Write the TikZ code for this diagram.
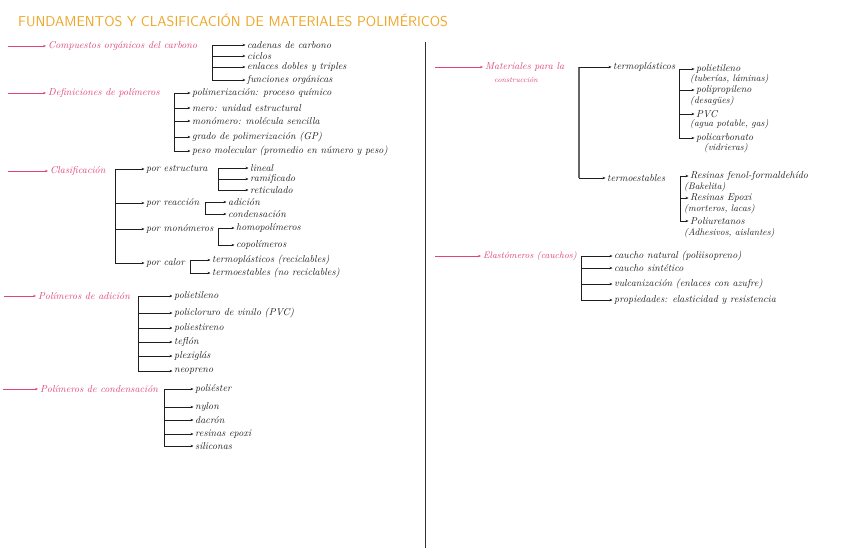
\documentclass[tikz,border=0pt]{standalone}
\usepackage{fontspec}
\usetikzlibrary{arrows.meta}
\definecolor{pinkc}{HTML}{E0447C}
\definecolor{titc}{HTML}{EEA626}
\definecolor{ink}{HTML}{1E1E1E}
\definecolor{divc}{HTML}{333333}
\tikzset{
 txt/.style={anchor=west,inner sep=0pt,font=\fontsize{10}{11}\selectfont\itshape,text=ink},
 small/.style={anchor=west,inner sep=0pt,font=\fontsize{9.5}{10}\selectfont\itshape,text=ink},
 hd/.style={anchor=west,inner sep=0pt,font=\fontsize{10}{11}\selectfont\itshape,text=pinkc},
 hdsmall/.style={anchor=west,inner sep=0pt,font=\fontsize{7.5}{9}\selectfont\itshape,text=pinkc},
 lead/.style={draw=pinkc,line width=0.7pt,-{Stealth[length=3pt,width=2.4pt]},shorten >=2pt},
 br/.style={draw=ink,line width=0.7pt},
 ar/.style={draw=ink,line width=0.7pt,-{Stealth[length=3pt,width=2.4pt]},shorten >=1.5pt},
}
\begin{document}
\begin{tikzpicture}[x=1pt,y=-1pt]
\useasboundingbox[fill=white] (0,0) rectangle (848,548);
% title
\node[anchor=west,inner sep=0pt,text=titc,font=\fontsize{14.3}{16}\selectfont\sffamily] (title) at (18,20) {FUNDAMENTOS Y CLASIFICACIÓN DE MATERIALES POLIMÉRICOS};
% divider
\coordinate (d1) at (425,42);
\coordinate (d2) at (425,548);
\draw[divc,line width=1pt] (d1) -- (d2);

% ---- block 1
\coordinate (s1) at (8,46);
\node[hd] (h1) at (48,46) {Compuestos orgánicos del carbono};
\draw[lead] (s1) -- (h1.west);
\node[txt] (c11) at (247,45) {cadenas de carbono};
\node[txt] (c12) at (247,56) {ciclos};
\node[txt] (c13) at (247,67) {enlaces dobles y triples};
\node[txt] (c14) at (247,80) {funciones orgánicas};
\coordinate (b1) at (212,45);
\draw[br] (b1) -- (b1 |- c14.west);
\foreach \c in {c11,c12,c13,c14} \draw[ar] (b1 |- \c.west) -- (\c.west);

% ---- block 2
\coordinate (s2) at (8,93);
\node[hd] (h2) at (48,93) {Definiciones de polímeros};
\draw[lead] (s2) -- (h2.west);
\node[txt] (c21) at (192,93) {polimerización: proceso químico};
\node[txt] (c22) at (192,108) {mero: unidad estructural};
\node[txt] (c23) at (192,121) {monómero: molécula sencilla};
\node[txt] (c24) at (192,137) {grado de polimerización (GP)};
\node[txt] (c25) at (192,151) {peso molecular (promedio en número y peso)};
\coordinate (b2) at (174,93);
\draw[br] (b2) -- (b2 |- c25.west);
\foreach \c in {c21,c22,c23,c24,c25} \draw[ar] (b2 |- \c.west) -- (\c.west);

% ---- block 3
\coordinate (s3) at (8,171);
\node[hd] (h3) at (50,171) {Clasificación};
\draw[lead] (s3) -- (h3.west);
\node[txt] (p31) at (146,169) {por estructura};
\node[txt] (p32) at (146,203) {por reacción};
\node[txt] (p33) at (146,229) {por monómeros};
\node[txt] (p34) at (146,263) {por calor};
\coordinate (b3) at (115,169);
\draw[br] (b3) -- (b3 |- p34.west);
\foreach \c in {p31,p32,p33,p34} \draw[ar] (b3 |- \c.west) -- (\c.west);
% estructura
\node[txt] (q11) at (250,168) {lineal};
\node[txt] (q12) at (250,179) {ramificado};
\node[txt] (q13) at (250,190) {reticulado};
\coordinate (b31) at (218,168);
\draw[br] (b31) -- (b31 |- q13.west);
\foreach \c in {q11,q12,q13} \draw[ar] (b31 |- \c.west) -- (\c.west);
% reaccion
\node[txt] (q21) at (228,202) {adición};
\node[txt] (q22) at (228,214) {condensación};
\coordinate (b32) at (205,202);
\draw[br] (b32) -- (b32 |- q22.west);
\foreach \c in {q21,q22} \draw[ar] (b32 |- \c.west) -- (\c.west);
% monomeros
\node[txt] (q31) at (236,228) {homopolímeros};
\node[txt] (q32) at (236,245) {copolímeros};
\coordinate (b33) at (218,228);
\draw[br] (b33) -- (b33 |- q32.west);
\foreach \c in {q31,q32} \draw[ar] (b33 |- \c.west) -- (\c.west);
% calor
\node[txt] (q41) at (212,260) {termoplásticos (reciclables)};
\node[txt] (q42) at (212,273) {termoestables (no reciclables)};
\coordinate (b34) at (190,260);
\draw[br] (b34) -- (b34 |- q42.west);
\foreach \c in {q41,q42} \draw[ar] (b34 |- \c.west) -- (\c.west);

% ---- block 4
\coordinate (s4) at (4,296);
\node[hd] (h4) at (38,296) {Polímeros de adición};
\draw[lead] (s4) -- (h4.west);
\node[txt] (c41) at (174,296) {polietileno};
\node[txt] (c42) at (174,313) {policloruro de vinilo (PVC)};
\node[txt] (c43) at (174,328) {poliestireno};
\node[txt] (c44) at (174,342) {teflón};
\node[txt] (c45) at (174,356) {plexiglás};
\node[txt] (c46) at (174,371) {neopreno};
\coordinate (b4) at (138,296);
\draw[br] (b4) -- (b4 |- c46.west);
\foreach \c in {c41,c42,c43,c44,c45,c46} \draw[ar] (b4 |- \c.west) -- (\c.west);

% ---- block 5
\coordinate (s5) at (3,389);
\node[hd] (h5) at (40,389) {Polímeros de condensación};
\draw[lead] (s5) -- (h5.west);
\node[txt] (c51) at (195,389) {poliéster};
\node[txt] (c52) at (195,407) {nylon};
\node[txt] (c53) at (195,420) {dacrón};
\node[txt] (c54) at (195,434) {resinas epoxi};
\node[txt] (c55) at (195,446) {siliconas};
\coordinate (b5) at (164,389);
\draw[br] (b5) -- (b5 |- c55.west);
\foreach \c in {c51,c52,c53,c54,c55} \draw[ar] (b5 |- \c.west) -- (\c.west);

% ---- right: materiales
\coordinate (s6) at (435,67);
\node[hd] (h6) at (485,67) {Materiales para la};
\node[hdsmall] (h6b) at (494,80) {construcción};
\draw[lead] (s6) -- (h6.west);
\node[txt] (m1) at (613,67) {termoplásticos};
\node[txt] (m2) at (607,178) {termoestables};
\coordinate (b6) at (579,67);
\draw[gray!80!black,line width=1.3pt] (b6) -- (b6 |- m2.west);
\foreach \c in {m1,m2} \draw[ar] (b6 |- \c.west) -- (\c.west);
% termoplasticos
\node[txt] (t1) at (696,69) {polietileno};
\node[small] (t1b) at (690,79) {(tuberías, láminas)};
\node[txt] (t2) at (696,90) {polipropileno};
\node[small] (t2b) at (690,101) {(desagües)};
\node[txt] (t3) at (696,114) {PVC};
\node[small] (t3b) at (690,124) {(agua potable, gas)};
\node[txt] (t4) at (696,138) {policarbonato};
\node[small] (t4b) at (704,148) {(vidrieras)};
\coordinate (b61) at (679,69);
\draw[br] (b61) -- (b61 |- t4.west);
\foreach \c in {t1,t2,t3,t4} \draw[ar] (b61 |- \c.west) -- (\c.west);
% termoestables
\node[txt] (u1) at (690,176) {Resinas fenol-formaldehído};
\node[small] (u1b) at (684,187) {(Bakelita)};
\node[txt] (u2) at (690,198) {Resinas Epoxi};
\node[small] (u2b) at (684,209) {(morteros, lacas)};
\node[txt] (u3) at (690,221) {Poliuretanos};
\node[small] (u3b) at (684,233) {(Adhesivos, aislantes)};
\coordinate (b62) at (680,176);
\draw[br] (b62) -- (b62 |- u3.west);
\foreach \c in {u1,u2,u3} \draw[ar] (b62 |- \c.west) -- (\c.west);

% ---- right: elastomeros
\coordinate (s7) at (435,256);
\node[hd,font=\fontsize{9.3}{11}\selectfont\itshape] (h7) at (483,256) {Elastómeros (cauchos)};
\draw[lead] (s7) -- (h7.west);
\node[txt] (e1) at (614,256) {caucho natural (poliisopreno)};
\node[txt] (e2) at (614,268) {caucho sintético};
\node[txt] (e3) at (614,284) {vulcanización (enlaces con azufre)};
\node[txt] (e4) at (614,300) {propiedades: elasticidad y resistencia};
\coordinate (b7) at (581,256);
\draw[br] (b7) -- (b7 |- e4.west);
\foreach \c in {e1,e2,e3,e4} \draw[ar] (b7 |- \c.west) -- (\c.west);
\end{tikzpicture}
\end{document}
